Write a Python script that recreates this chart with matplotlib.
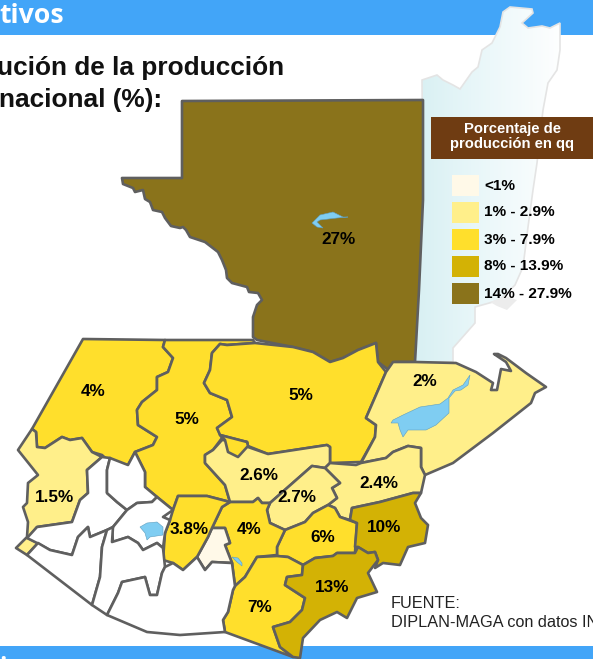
import matplotlib
matplotlib.use("Agg")
import matplotlib.pyplot as plt
from matplotlib.colors import LinearSegmentedColormap
from matplotlib.patches import Polygon, Rectangle
import numpy as np

# class colours
c_low = "#fff9e8"
c_1 = "#ffef8a"
c_3 = "#ffdf2c"
c_8 = "#d3b205"
c_14 = "#8a731b"
line_col = "#5f5f5f"
lake_col = "#7fcdf2"
band_col = "#42a5f8"

legend_labels = ["<1%", "1% - 2.9%", "3% - 7.9%", "8% - 13.9%", "14% - 27.9%"]
legend_colors = [c_low, c_1, c_3, c_8, c_14]

# department outlines
peten = [(182, 101), (423, 100), (423, 200), (419, 290), (415, 362), (395, 362), (390, 371), (378, 362), (376, 343),
         (358, 350), (343, 358), (330, 362), (313, 352), (293, 347), (257, 340), (253, 337), (253, 317), (257, 305),
         (262, 300), (258, 293), (249, 292), (247, 287), (232, 283), (227, 278), (226, 270), (222, 260), (218, 252),
         (205, 242), (190, 237), (186, 230), (183, 227), (180, 228), (171, 226), (165, 218), (162, 212), (153, 210),
         (150, 202), (145, 199), (143, 190), (135, 192), (133, 188), (123, 184), (122, 178), (182, 178)]
huehue = [(83, 339), (165, 340), (163, 347), (173, 358), (168, 372), (157, 377), (157, 390), (142, 402), (137, 410),
          (138, 425), (157, 437), (153, 445), (135, 452), (128, 465), (113, 465), (102, 455), (92, 452), (82, 438),
          (70, 440), (62, 437), (45, 448), (37, 447), (36, 432), (32, 429)]
quiche = [(165, 340), (253, 340), (255, 343), (227, 345), (220, 344), (212, 353), (210, 370), (204, 383), (210, 393),
          (227, 400), (232, 417), (217, 428), (222, 438), (213, 450), (205, 455), (205, 463), (225, 485), (230, 502),
          (207, 496), (178, 496), (173, 510), (157, 497), (145, 487), (145, 472), (135, 452), (153, 445), (157, 437),
          (138, 425), (137, 410), (142, 402), (157, 390), (157, 377), (168, 372), (173, 358), (163, 347)]
alta_verapaz = [(255, 343), (227, 345), (220, 344), (212, 353), (210, 370), (204, 383), (210, 393), (227, 400),
                (232, 417), (217, 428), (220, 435), (247, 442), (248, 446), (268, 454), (327, 445), (330, 447),
                (330, 463), (361, 462), (375, 437), (376, 425), (366, 418), (386, 372), (378, 362),
                (376, 343), (358, 350), (343, 358), (330, 362), (313, 352), (293, 347)]
baja_verapaz = [(222, 440), (213, 450), (205, 455), (205, 463), (225, 485), (230, 502), (253, 502), (258, 498),
                (262, 503), (270, 503), (312, 466), (325, 468), (330, 463), (330, 447), (327, 445), (268, 454),
                (248, 447), (247, 442)]
notch = [(220, 435), (247, 442), (248, 446), (238, 457), (228, 452), (225, 440)]
izabal = [(393, 362), (415, 362), (456, 363), (476, 372), (493, 383), (491, 390), (497, 390), (501, 369), (511, 371),
          (506, 362), (494, 354), (498, 354), (506, 358), (526, 373), (546, 387), (535, 393), (531, 403), (493, 433),
          (453, 463), (425, 475), (421, 467), (421, 448), (408, 446), (393, 452), (386, 458), (361, 463), (375, 437),
          (376, 425), (366, 418), (386, 372)]
zacapa = [(325, 468), (330, 463), (356, 465), (361, 463), (386, 458), (393, 452), (408, 446), (421, 448), (421, 467),
          (425, 475), (421, 493), (413, 493), (380, 502), (352, 508), (350, 520), (340, 517), (335, 508), (328, 505),
          (337, 498), (332, 488), (340, 483)]
progreso = [(270, 503), (312, 466), (325, 468), (340, 483), (332, 488), (337, 498), (328, 505), (313, 513), (305, 522),
            (285, 530), (270, 523), (267, 510)]
chiquimula = [(352, 508), (380, 502), (413, 493), (421, 493), (415, 503), (421, 518), (428, 525), (425, 543), (408, 547),
              (400, 565), (383, 563), (375, 568), (378, 560), (375, 552), (368, 553), (358, 547), (355, 547), (357, 523),
              (350, 520)]
jalapa = [(285, 530), (305, 522), (313, 513), (328, 505), (335, 508), (340, 517), (357, 523), (355, 553), (337, 553),
          (333, 556), (315, 558), (303, 565), (288, 557), (277, 556), (277, 547)]
guatemala = [(222, 507), (230, 502), (253, 502), (258, 498), (262, 503), (270, 503), (267, 510), (270, 523), (285, 530),
             (277, 547), (277, 555), (257, 557), (245, 577), (235, 586), (232, 563), (225, 545), (230, 543), (225, 528),
             (212, 528)]
santa_rosa = [(235, 586), (245, 577), (257, 557), (277, 556), (288, 557), (303, 565), (302, 575), (287, 577), (285, 585),
              (305, 598), (302, 610), (290, 622), (273, 627), (280, 647), (293, 657), (225, 632), (223, 620), (228, 612),
              (233, 590)]
jutiapa = [(303, 565), (315, 558), (333, 556), (337, 553), (355, 553), (358, 547), (368, 553), (375, 552), (378, 560),
           (368, 573), (377, 592), (357, 598), (347, 618), (337, 612), (320, 620), (303, 638), (300, 658), (293, 657),
           (280, 647), (273, 627), (290, 622), (302, 610), (305, 598), (285, 585), (287, 577), (302, 575)]
sacatepequez = [(212, 528), (225, 528), (230, 543), (225, 545), (232, 563), (212, 562), (205, 570), (197, 557), (208, 537)]
chimaltenango = [(178, 496), (207, 496), (230, 502), (222, 507), (212, 528), (208, 537), (197, 557), (183, 570),
                 (173, 563), (163, 560), (165, 533), (170, 520), (173, 510)]
san_marcos = [(32, 429), (18, 450), (38, 475), (28, 483), (27, 503), (23, 507), (28, 522), (27, 537), (16, 548),
              (27, 555), (38, 543), (28, 538), (37, 527), (72, 522), (80, 500), (88, 493), (87, 470), (102, 457),
              (92, 452), (82, 438), (70, 440), (62, 437), (45, 448), (37, 447), (36, 432)]
quetzaltenango = [(27, 538), (37, 527), (72, 522), (80, 500), (88, 493), (87, 470), (102, 457), (110, 458), (107, 470),
                  (107, 493), (117, 502), (127, 510), (113, 527), (107, 530), (90, 537), (88, 527), (78, 537), (72, 555),
                  (50, 550), (37, 543)]
retalhuleu = [(27, 555), (38, 543), (50, 550), (72, 555), (78, 537), (88, 527), (90, 537), (107, 530), (102, 547),
              (100, 577), (92, 605)]
totonicapan = [(110, 458), (128, 465), (135, 452), (145, 472), (145, 487), (157, 497), (152, 502), (137, 503), (127, 510),
               (117, 502), (107, 493), (107, 470)]
solola = [(127, 510), (137, 503), (152, 502), (157, 497), (173, 510), (163, 517), (170, 520), (165, 533), (163, 548),
          (157, 543), (143, 550), (138, 543), (128, 537), (113, 542), (112, 530), (113, 527)]
suchitepequez = [(107, 530), (113, 527), (112, 542), (128, 537), (138, 543), (143, 550), (157, 543), (163, 548),
                 (165, 567), (162, 573), (157, 595), (150, 595), (145, 577), (122, 582), (118, 593), (107, 615),
                 (92, 605), (100, 577), (102, 547)]
escuintla = [(107, 615), (118, 593), (122, 582), (145, 577), (150, 595), (157, 595), (162, 573), (165, 567), (173, 563),
             (183, 570), (197, 557), (205, 570), (212, 562), (232, 563), (235, 586), (233, 590), (228, 612), (223, 620),
             (225, 632), (180, 635), (147, 632)]

lake_izabal = [(393, 420), (403, 415), (420, 407), (440, 404), (448, 398), (453, 390), (463, 385), (470, 375), (468, 385),
               (461, 390), (455, 391), (449, 398), (449, 413), (436, 425), (426, 430), (408, 430), (403, 437), (400, 430),
               (398, 423), (391, 423)]
lake_atitlan = [(140, 527), (147, 523), (157, 522), (163, 527), (163, 535), (150, 537), (147, 540), (145, 533)]
lake_amatitlan = [(232, 557), (238, 558), (242, 563), (242, 566), (237, 562)]
lake_peten = [(312, 223), (320, 215), (333, 212), (343, 217), (348, 217), (337, 218), (320, 220), (317, 222), (323, 228),
              (317, 227)]
belize = [(422, 80), (437, 75), (443, 80), (453, 85), (460, 89), (472, 72), (478, 67), (482, 50), (492, 43), (500, 27),
          (503, 12), (510, 7), (532, 9), (533, 13), (522, 23), (528, 28), (542, 26), (550, 28), (560, 23), (560, 50),
          (557, 70), (548, 83), (543, 110), (537, 163), (533, 190), (528, 227), (523, 267), (515, 285), (500, 300),
          (475, 307), (475, 323), (453, 348), (453, 362), (415, 362), (419, 290), (423, 200)]
cays = [(490, 302), (505, 296), (517, 300), (507, 310), (497, 306)]

departments = [
    (peten, c_14), (huehue, c_3), (quiche, c_3), (alta_verapaz, c_3), (baja_verapaz, c_1),
    (notch, c_3), (izabal, c_1), (zacapa, c_1), (progreso, c_1), (jalapa, c_3), (guatemala, c_3), (santa_rosa, c_3),
    (chiquimula, c_8), (jutiapa, c_8), (sacatepequez, c_low), (chimaltenango, c_3), (san_marcos, c_1),
    (quetzaltenango, "white"), (retalhuleu, "white"), (totonicapan, "white"), (solola, "white"),
    (suchitepequez, "white"), (escuintla, "white"),
]
lakes = [lake_izabal, lake_atitlan, lake_amatitlan, lake_peten]

value_labels = ["27%", "4%", "5%", "5%", "2%", "2.6%", "2.7%", "2.4%", "1.5%", "3.8%", "4%", "6%", "10%", "13%", "7%"]
value_x = [338, 93, 187, 301, 425, 259, 297, 379, 55, 189, 249, 323, 384, 332, 260]
value_y = [240, 392, 420, 396, 382, 476, 498, 483, 497, 529, 530, 538, 528, 587, 608]

arial = "Liberation Sans"

fig = plt.figure(figsize=(5.93, 6.59), dpi=100)
ax = fig.add_axes([0, 0, 1, 1])

# header and footer bands
ax.add_patch(Rectangle((0, 0), 593, 35, color=band_col, lw=0, zorder=1))
ax.add_patch(Rectangle((0, 646), 593, 13, color=band_col, lw=0, zorder=1))
ax.text(-1, 23, "tivos", color="white", fontsize=19.2, fontweight="bold", family="Open Sans", va="baseline", zorder=6)
ax.text(-1, 675, "i", color="white", fontsize=18, fontweight="bold", family="Open Sans", va="baseline", zorder=6,
        clip_on=True)

# title
ax.text(-3, 75, "ución de la producción", fontsize=18.9, fontweight="bold", family=arial, va="baseline", color="#111111")
ax.text(-1, 107, "nacional (%):", fontsize=18.9, fontweight="bold", family=arial, va="baseline", color="#111111")

# belize with the soft gradient
cmap = LinearSegmentedColormap.from_list("belize", ["#d8f0f3", "#ecf8fa", "#ffffff"])
grad = np.linspace(0, 1, 200).reshape(1, -1)
im = ax.imshow(grad, cmap=cmap, extent=(415, 565, 659, 0), aspect="auto", zorder=2)
belize_patch = Polygon(belize, closed=True, transform=ax.transData, fc="none", ec="#e4e4e4", lw=1.2, zorder=2.5)
ax.add_patch(belize_patch)
im.set_clip_path(belize_patch)
ax.add_patch(Polygon(cays, closed=True, fc="#ececec", ec="none", zorder=2.5))
ax.set_xlim(0, 593)
ax.set_ylim(659, 0)
ax.axis("off")

for pts, col in departments:
    ax.add_patch(Polygon(pts, closed=True, fc=col, ec=line_col, lw=1.9, joinstyle="round", zorder=3))
for pts in lakes:
    ax.add_patch(Polygon(pts, closed=True, fc=lake_col, ec="#5f9fc0", lw=0.4, zorder=4))

for x, y, lab in zip(value_x, value_y, value_labels):
    ax.text(x, y, lab, ha="center", va="center", fontsize=12.3, fontweight="bold", family=arial, color="black", zorder=5)

# legend
ax.add_patch(Rectangle((431, 117), 162, 42, color="#6f3c12", lw=0, zorder=5))
ax.text(512, 129, "Porcentaje de", color="white", ha="center", va="center", fontsize=10.6, fontweight="bold", family=arial,
        zorder=6)
ax.text(512, 144, "producción en qq", color="white", ha="center", va="center", fontsize=10.6, fontweight="bold",
        family=arial, zorder=6)
for i, (lab, col) in enumerate(zip(legend_labels, legend_colors)):
    top = 175 + i * 27
    ax.add_patch(Rectangle((452, top), 27, 21, color=col, lw=0, zorder=5))
    ax.text(484, top + 10.5, lab, va="center", fontsize=11.1, fontweight="bold", family=arial, color="black", zorder=6)

# source
ax.text(391, 608, "FUENTE:", fontsize=11.7, family=arial, va="baseline", color="#222222", zorder=6)
ax.text(391, 627, "DIPLAN-MAGA con datos INE", fontsize=11.7, family=arial, va="baseline", color="#222222", zorder=6)

fig.savefig("out.png", dpi=100)
